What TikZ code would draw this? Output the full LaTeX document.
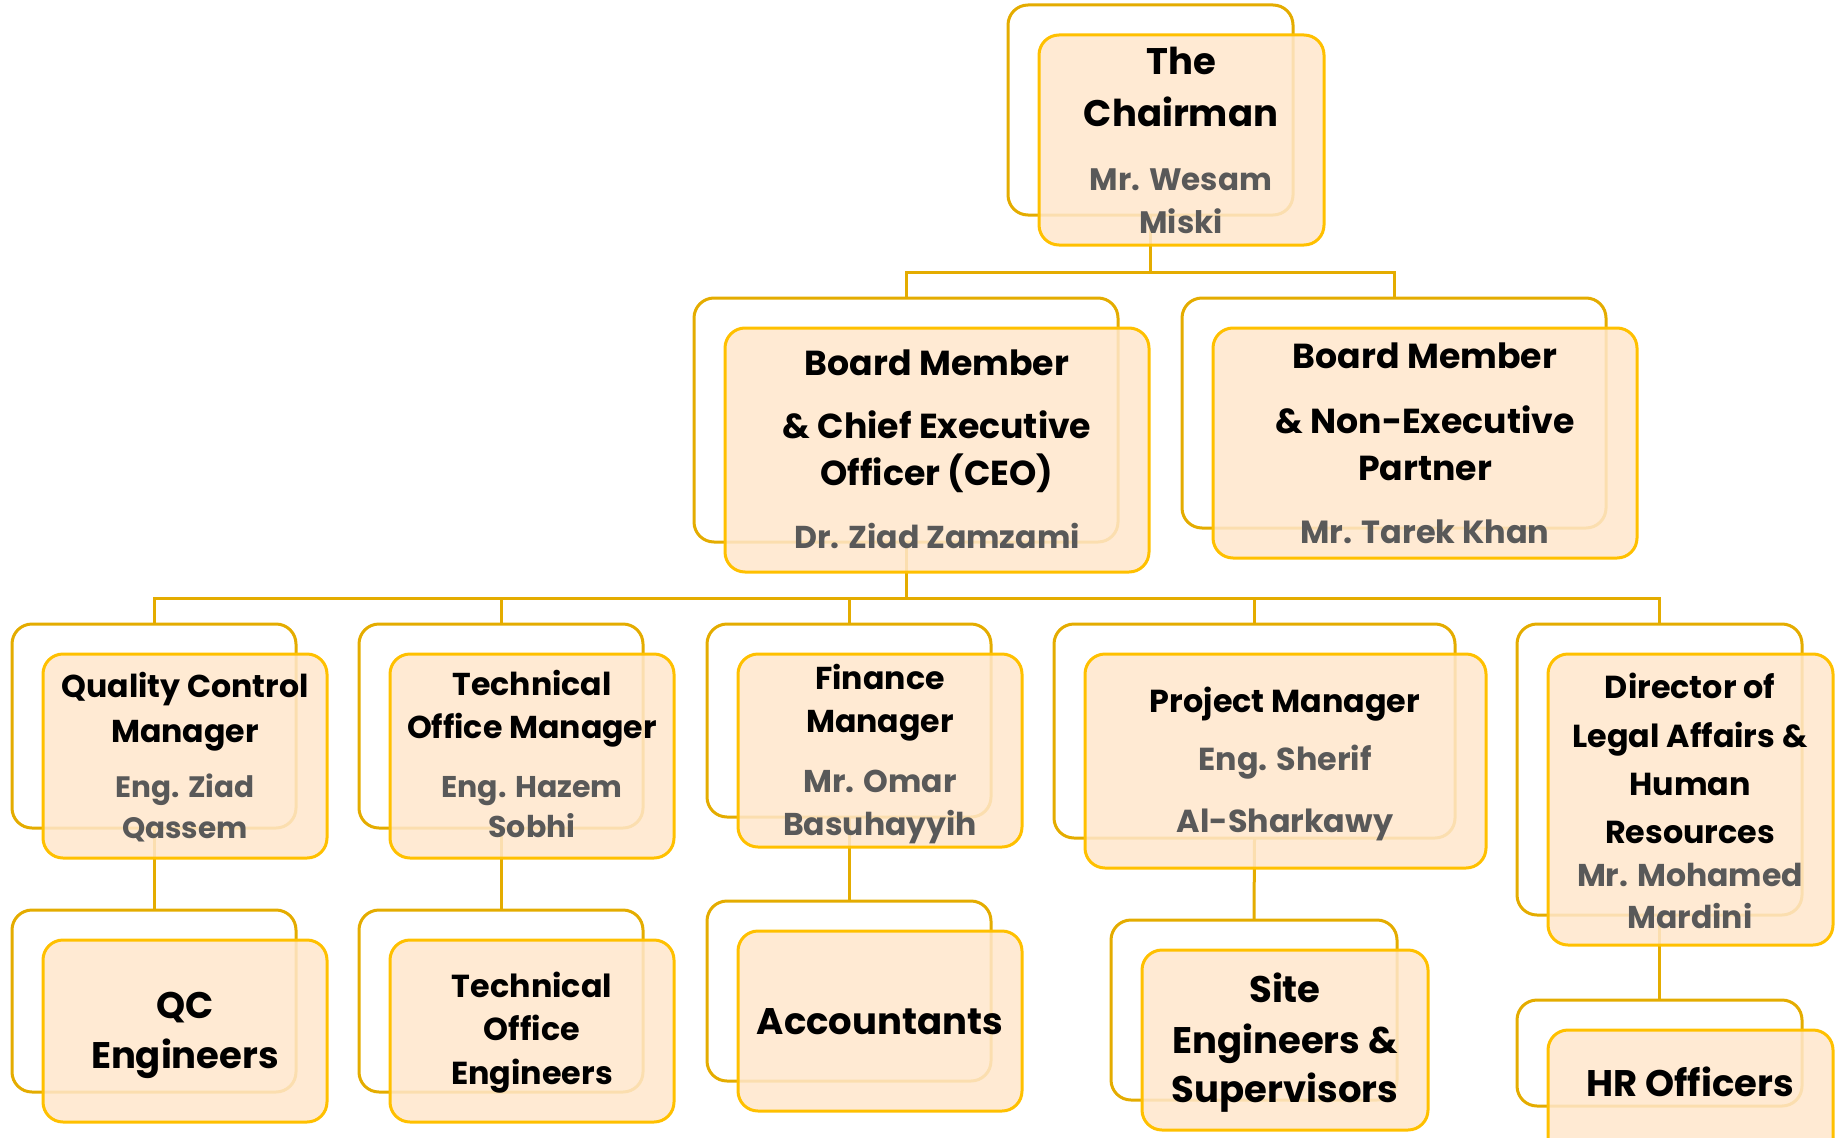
\documentclass[tikz,border=0pt]{standalone}
\usepackage{fontspec}
\setmainfont{Poppins}
\definecolor{lineC}{RGB}{228,172,0}
\definecolor{frontC}{RGB}{255,192,0}
\definecolor{fillC}{RGB}{255,231,204}
\definecolor{nameC}{RGB}{89,89,89}
\tikzset{
  backbox/.style={draw=lineC, line width=3pt, rounded corners=20pt, inner sep=0pt, outer sep=0pt},
  frontbox/.style={draw=frontC, line width=3pt, rounded corners=20pt, fill=fillC, fill opacity=0.86, inner sep=0pt, outer sep=0pt},
  conn/.style={draw=lineC, line width=3pt},
  tt/.style={anchor=base, inner sep=0pt, text=black, font=\bfseries\fontsize{#1}{#1}\selectfont},
  nm/.style={anchor=base, inner sep=0pt, text=nameC, font=\bfseries\fontsize{#1}{#1}\selectfont}
}
\newcommand\bkbox[5]{\node[backbox, minimum width={#4-#2}, minimum height={#5-#3}] (#1) at ({(#2+#4)/2},{(#3+#5)/2}) {};}
\newcommand\frbox[5]{\node[frontbox, minimum width={#4-#2}, minimum height={#5-#3}] (#1) at ({(#2+#4)/2+31},{(#3+#5)/2+30}) {};}
\begin{document}
\begin{tikzpicture}[x=1pt,y=-1pt]
\useasboundingbox (0,0) rectangle (1835,1137);
% back boxes
\bkbox{chb}{1008}{5}{1293}{215}
\bkbox{ceob}{694}{298}{1118}{542}
\bkbox{neb}{1182}{298}{1606}{528}
\bkbox{qcb}{12}{624}{296}{828}
\bkbox{tob}{359}{624}{643}{828}
\bkbox{fib}{707}{624}{991}{817}
\bkbox{pmb}{1054}{624}{1455}{838}
\bkbox{dib}{1517}{624}{1802}{915}
\bkbox{qeb}{12}{910}{296}{1092}
\bkbox{teb}{359}{910}{643}{1092}
\bkbox{acb}{707}{901}{991}{1081}
\bkbox{seb}{1111}{920}{1397}{1100}
\bkbox{hrb}{1517}{1000}{1802}{1106}
% connectors
\coordinate (bus1) at (1150,272);
\coordinate (bus2) at (0,598);
\draw[conn] (chb.south) -- (chb.south |- bus1);
\draw[conn] (ceob.north) -- (ceob.north |- bus1) -- (neb.north |- bus1) -- (neb.north);
\draw[conn] (ceob.south) -- (ceob.south |- bus2);
\draw[conn] (qcb.north) -- (qcb.north |- bus2) -- (dib.north |- bus2) -- (dib.north);
\draw[conn] (tob.north) -- (tob.north |- bus2);
\draw[conn] (fib.north) -- (fib.north |- bus2);
\draw[conn] (pmb.north) -- (pmb.north |- bus2);
\draw[conn] (qcb.south) -- (qeb.north);
\draw[conn] (tob.south) -- (teb.north);
\draw[conn] (fib.south) -- (acb.north);
\draw[conn] (pmb.south) -- (seb.north);
\draw[conn] (dib.south) -- (hrb.north);
% front boxes
\frbox{chf}{1008}{5}{1293}{215}
\frbox{ceof}{694}{298}{1118}{542}
\frbox{nef}{1182}{298}{1606}{528}
\frbox{qcf}{12}{624}{296}{828}
\frbox{tof}{359}{624}{643}{828}
\frbox{fif}{707}{624}{991}{817}
\frbox{pmf}{1054}{624}{1455}{838}
\frbox{dif}{1517}{624}{1802}{915}
\frbox{qef}{12}{910}{296}{1092}
\frbox{tef}{359}{910}{643}{1092}
\frbox{acf}{707}{901}{991}{1081}
\frbox{sef}{1111}{920}{1397}{1100}
\frbox{hrf}{1517}{1000}{1802}{1130}
% texts
\node[tt=37] (t1) at (1181,75) {The};
\node[tt=37] (t2) at (1181,127) {Chairman};
\node[nm=31] (t3) at (1181,190) {Mr. Wesam};
\node[nm=31] (t4) at (1181,233) {Miski};
\node[tt=34.7] (t5) at (937,375) {Board Member};
\node[tt=34.7] (t6) at (937,438) {\& Chief Executive};
\node[tt=34.7] (t7) at (937,485) {Officer (CEO)};
\node[nm=31.6] (t8) at (937,548) {Dr. Ziad Zamzami};
\node[tt=34.7] (t9) at (1425,368) {Board Member};
\node[tt=34.7] (t10) at (1425,433) {\& Non-Executive};
\node[tt=34.7] (t11) at (1425,480) {Partner};
\node[nm=32] (t12) at (1425,543) {Mr. Tarek Khan};
\node[tt=31.6] (t13) at (185,697) {Quality Control};
\node[tt=31.6] (t14) at (185,742) {Manager};
\node[nm=29.5] (t15) at (185,797) {Eng. Ziad};
\node[nm=29.5] (t16) at (185,838) {Qassem};
\node[tt=31.6] (t17) at (532,695) {Technical};
\node[tt=31.6] (t18) at (532,738) {Office Manager};
\node[nm=30] (t19) at (532,797) {Eng. Hazem};
\node[nm=30] (t20) at (532,837) {Sobhi};
\node[tt=31.6] (t21) at (880,689) {Finance};
\node[tt=31.6] (t22) at (880,732) {Manager};
\node[nm=31.5] (t23) at (880,792) {Mr. Omar};
\node[nm=31.5] (t24) at (880,835) {Basuhayyih};
\node[tt=31.8] (t25) at (1285,712) {Project Manager};
\node[nm=31.8] (t26) at (1285,770) {Eng. Sherif};
\node[nm=31.8] (t27) at (1285,832) {Al-Sharkawy};
\node[tt=31.8] (t28) at (1690,698) {Director of};
\node[tt=31.8] (t29) at (1690,747) {Legal Affairs \&};
\node[tt=31.8] (t30) at (1690,795) {Human};
\node[tt=31.8] (t31) at (1690,843) {Resources};
\node[nm=31.5] (t32) at (1690,886) {Mr. Mohamed};
\node[nm=31.5] (t33) at (1690,928) {Mardini};
\node[tt=37] (t34) at (185,1018) {QC};
\node[tt=37] (t35) at (185,1068) {Engineers};
\node[tt=31.8] (t36) at (532,997) {Technical};
\node[tt=31.8] (t37) at (532,1040) {Office};
\node[tt=31.8] (t38) at (532,1084) {Engineers};
\node[tt=37] (t39) at (880,1034) {Accountants};
\node[tt=37] (t40) at (1285,1002) {Site};
\node[tt=37] (t41) at (1285,1053) {Engineers \&};
\node[tt=37] (t42) at (1285,1102) {Supervisors};
\node[tt=37] (t43) at (1690,1096) {HR Officers};
\end{tikzpicture}
\end{document}
